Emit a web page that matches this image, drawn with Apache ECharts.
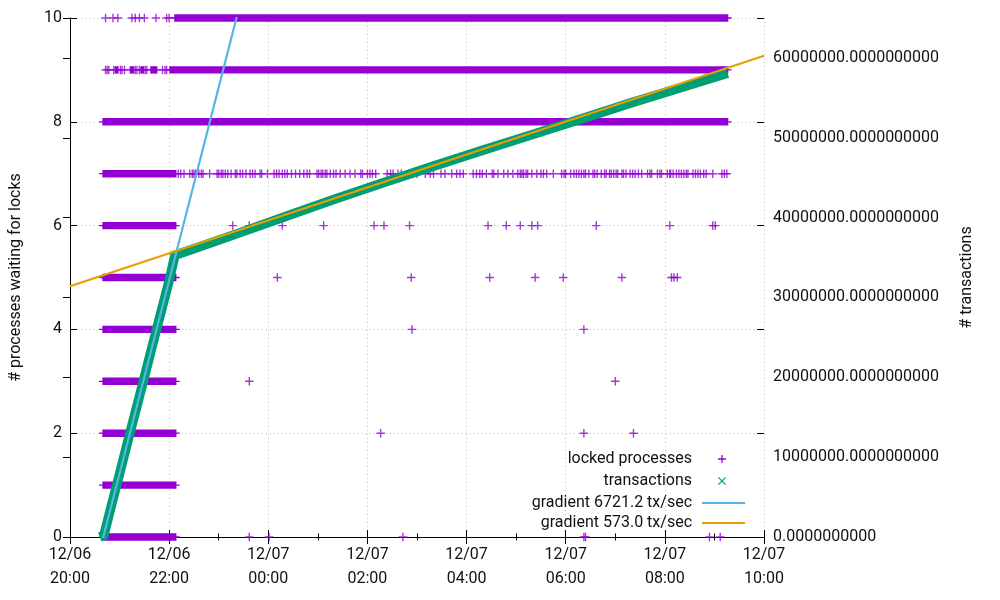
<!DOCTYPE html>
<html><head><meta charset="utf-8">
<script src="https://cdn.jsdelivr.net/npm/echarts@6/dist/echarts.min.js"></script>
<style>html,body{margin:0;padding:0;background:#fff}#c{width:1000px;height:600px}</style>
</head><body><div id="c"></div><script>
// x values are minutes after 12/06 20:00
const xTickLabels = ['12/06\n20:00','12/06\n22:00','12/07\n00:00','12/07\n02:00','12/07\n04:00','12/07\n06:00','12/07\n08:00','12/07\n10:00'];

// dense runs of "locked processes" samples: [startMin, endMin, processes]
const lockedRuns = [
  [40,128,0],[40,128,1],[40,128,2],[40,128,3],[40,128,4],[40,128,5],[40,128,6],[40,128,7],
  [40,796,8],
  [55,58,9],[73,77,9],[86,89,9],[98,105,9],[121,796,9],
  [127,796,10]
];
// isolated samples per process count: minutes
const locked10 = [43,52,58,75,79,84,90,104,117,120];
const locked9 = [43,45,47,53,61,63,66,79,81,84,91,93,112,115,117];
const locked7 = [131,134,138,145,148,150,152,156,159,161,169,178,180,183,185,188,191,195,200,202,206,209,213,218,221,224,230,232,239,247,250,253,257,260,263,268,273,278,283,287,290,299,301,304,306,309,311,315,319,322,327,333,339,345,352,354,360,363,366,370,384,388,391,397,401,411,415,420,430,436,440,449,454,462,468,472,476,488,492,496,499,504,511,513,518,525,530,536,542,545,547,549,552,554,559,565,570,573,577,585,595,598,600,606,610,613,616,619,622,624,628,633,635,638,643,647,649,653,655,658,661,663,668,670,673,678,681,684,688,692,699,702,704,711,714,716,723,726,727,730,734,737,740,743,746,748,754,757,760,763,767,770,778,789,792,795];
const locked6 = [197,217,257,307,368,380,411,506,528,545,559,566,637,726,778,781];
const locked5 = [251,413,508,563,597,668,728,731,735];
const locked4 = [414,622];
const locked3 = [217,660];
const locked2 = [376,622,682];
const locked0 = [217,241,403,622,624,774,787];

// transactions counter: [minute, transactions]
const txMinutes = [36,41,50,60,70,80,90,100,110,120,127,150,200,260,320,380,440,500,560,620,680,740,796];
const txValues  = [0,200000,3900000,7900000,12000000,16000000,20000000,24100000,28100000,32100000,35300000,36100000,37900000,40100000,42300000,44400000,46450000,48450000,50400000,52400000,54400000,56300000,58100000];

// fitted gradients
const fastGradient = 6721.2;   // tx/sec
const fastZeroMin = 40.3;      // minute where fit crosses 0
const slowGradient = 573.0;    // tx/sec
const slowStartValue = 31400000; // fit value at 12/06 20:00

const PURPLE = '#9400d3', GREEN = '#009e73', BLUE = '#56b4e9', ORANGE = '#e69f00';
const FONT = 'Roboto', TXT = '#111', FS = 16;
const plusPath = 'path://M6.7,0 H9.3 V6.7 H16 V9.3 H9.3 V16 H6.7 V9.3 H0 V6.7 H6.7 Z';
// legend icons: 96x16 boxes (tiny corner specks fix the box), sample drawn inside
const BOX = 'M0,0 L0.01,0 L0,0.01 Z M95.99,16 L96,16 L96,15.99 Z ';
const legPlus = 'path://' + BOX + 'M48.7,0 H51.3 V6.7 H58 V9.3 H51.3 V16 H48.7 V9.3 H42 V6.7 H48.7 Z';
const legCross = 'path://' + BOX + 'M42,1.6 L43.6,0 L50,6.4 L56.4,0 L58,1.6 L51.6,8 L58,14.4 L56.4,16 L50,9.6 L43.6,16 L42,14.4 L48.4,8 Z';
const legLine = 'path://' + BOX + 'M10,5.8 H96 V10.2 H10 Z';

const lockedPoints = [];
[[locked10,10],[locked9,9],[locked7,7],[locked6,6],[locked5,5],[locked4,4],[locked3,3],[locked2,2],[locked0,0]].forEach(([arr,v]) => arr.forEach(m => lockedPoints.push([m, v])));
const txData = txMinutes.map((m,i) => [m, txValues[i]]);
const fastFit = [0, 840].map(m => [m, fastGradient * (m - fastZeroMin) * 60]);
const slowFit = [0, 840].map(m => [m, slowStartValue + slowGradient * m * 60]);

const chart = echarts.init(document.getElementById('c'), null, {renderer: 'canvas'});
const legendBase = (name, icon, top) => ({
  data: [{name: name, icon: icon}], orient: 'vertical', right: 255, top: top, padding: 0,
  align: 'right', itemWidth: 48, itemHeight: 8, selectedMode: false, symbolKeepAspect: true,
  textStyle: {fontFamily: FONT, fontSize: FS, color: TXT}
});
const tickStyle = {show: true, inside: true, length: 7, lineStyle: {color: '#000'}};
chart.setOption({
  animation: false,
  backgroundColor: '#fff',
  textStyle: {fontFamily: FONT},
  grid: {left: 70, right: 236, top: 18, bottom: 63, show: false},
  legend: [
    legendBase('locked processes', legPlus, 451),
    legendBase('transactions', legCross, 473),
    legendBase('gradient 6721.2 tx/sec', legLine, 495),
    legendBase('gradient 573.0 tx/sec', legLine, 515)
  ],
  xAxis: [{
    type: 'value', min: 0, max: 840, interval: 120, position: 'bottom',
    axisLine: {show: true, lineStyle: {color: '#000', width: 1}},
    axisTick: tickStyle,
    minorTick: {show: true, splitNumber: 2, length: 3.5, lineStyle: {color: '#000'}},
    splitLine: {show: true, lineStyle: {color: '#c0c0c0', type: [1, 3], width: 1}},
    axisLabel: {fontFamily: FONT, fontSize: FS, color: TXT, lineHeight: 24, margin: 6,
      formatter: v => xTickLabels[Math.round(v / 120)]}
  }, {
    type: 'value', min: 0, max: 840, interval: 120, position: 'top',
    axisLine: {show: true, lineStyle: {color: '#000', width: 1}},
    axisTick: tickStyle,
    minorTick: {show: true, splitNumber: 2, length: 3.5, lineStyle: {color: '#000'}},
    splitLine: {show: false}, axisLabel: {show: false}
  }],
  yAxis: [{
    type: 'value', min: 0, max: 10, interval: 2, position: 'left',
    name: '# processes waiting for locks', nameLocation: 'middle', nameRotate: 90, nameGap: 46,
    nameTextStyle: {fontFamily: FONT, fontSize: FS, color: TXT},
    axisLine: {show: true, lineStyle: {color: '#000', width: 1}},
    axisTick: tickStyle, minorTick: {show: false},
    splitLine: {show: true, lineStyle: {color: '#c0c0c0', type: [1, 3], width: 1}},
    axisLabel: {fontFamily: FONT, fontSize: FS, color: TXT, margin: 8}
  }, {
    type: 'value', min: 0, max: 65000000, interval: 10000000, position: 'right',
    name: '# transactions', nameLocation: 'middle', nameRotate: 90, nameGap: 195,
    nameTextStyle: {fontFamily: FONT, fontSize: FS, color: TXT},
    axisLine: {show: true, lineStyle: {color: '#000', width: 1}},
    axisTick: tickStyle, minorTick: {show: false},
    splitLine: {show: false},
    axisLabel: {fontFamily: FONT, fontSize: FS, color: TXT, margin: 9,
      formatter: v => (v % 10000000 === 0 ? v.toFixed(10) : '')}
  }, {
    // mirrored ticks of the left axis on the right border
    type: 'value', min: 0, max: 10, interval: 2, position: 'right', offset: 0,
    axisLine: {show: false}, axisTick: tickStyle, minorTick: {show: false},
    splitLine: {show: false}, axisLabel: {show: false}
  }],
  series: [{
    name: 'locked processes', type: 'custom', xAxisIndex: 0, yAxisIndex: 0,
    encode: {x: [0, 1], y: 2}, data: lockedRuns, clip: false, z: 2,
    itemStyle: {color: PURPLE},
    renderItem: function (params, api) {
      const p1 = api.coord([api.value(0), api.value(2)]);
      const p2 = api.coord([api.value(1), api.value(2)]);
      return {type: 'group', children: [
        {type: 'rect', shape: {x: p1[0] - 0.7, y: p1[1] - 3.7, width: p2[0] - p1[0] + 1.4, height: 7.4}, style: {fill: PURPLE}},
        {type: 'rect', shape: {x: p1[0] - 4, y: p1[1] - 0.65, width: p2[0] - p1[0] + 8, height: 1.3}, style: {fill: PURPLE}}
      ]};
    }
  }, {
    name: 'locked processes', type: 'scatter', xAxisIndex: 0, yAxisIndex: 0,
    data: lockedPoints, symbol: plusPath, symbolSize: 8.5, clip: false, z: 2,
    itemStyle: {color: PURPLE}
  }, {
    name: 'transactions', type: 'line', xAxisIndex: 0, yAxisIndex: 1,
    data: txData, showSymbol: false, clip: false, z: 3,
    itemStyle: {color: GREEN},
    lineStyle: {color: GREEN, width: 9.5, join: 'miter'}
  }, {
    name: 'gradient 6721.2 tx/sec', type: 'line', xAxisIndex: 0, yAxisIndex: 1,
    data: fastFit, showSymbol: false, clip: true, z: 4,
    itemStyle: {color: BLUE}, lineStyle: {color: BLUE, width: 2.2}
  }, {
    name: 'gradient 573.0 tx/sec', type: 'line', xAxisIndex: 0, yAxisIndex: 1,
    data: slowFit, showSymbol: false, clip: true, z: 5,
    itemStyle: {color: ORANGE}, lineStyle: {color: ORANGE, width: 2.2}
  }]
});
</script></body></html>
